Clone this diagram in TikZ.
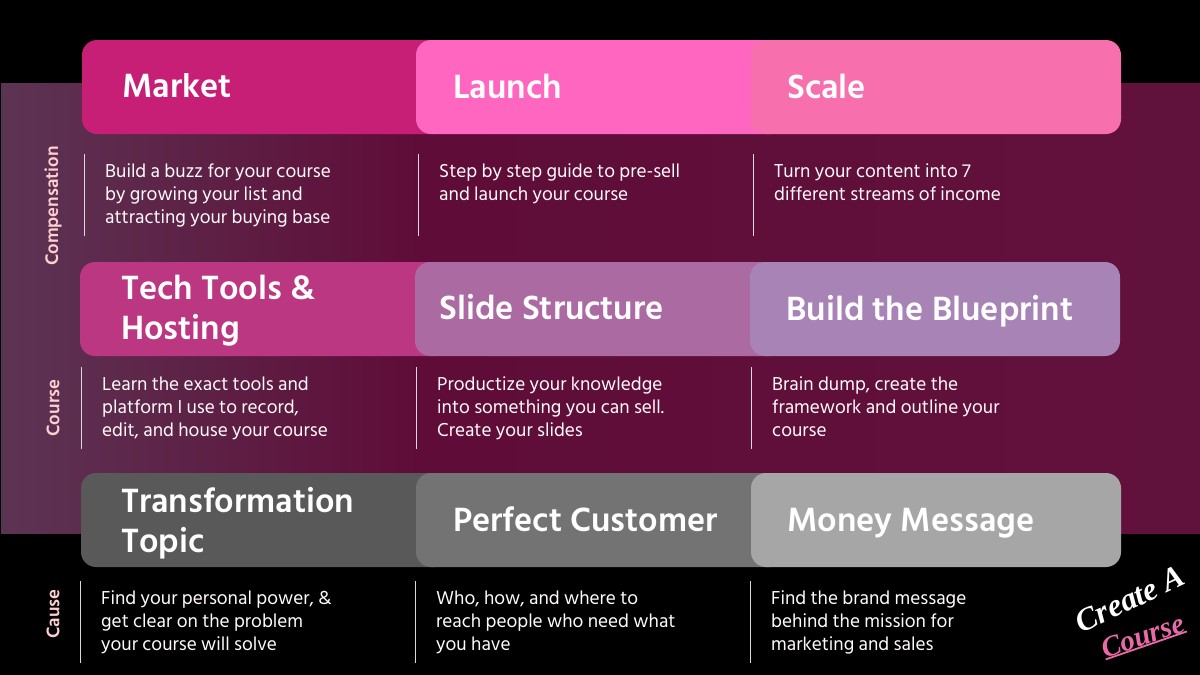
\documentclass[tikz,border=0pt]{standalone}
\usepackage{fontspec}
\setmainfont{Hind Siliguri}
\newfontfamily\logofont{Liberation Serif}
\usepackage{tikz}
\definecolor{bandleft}{HTML}{5C3453}
\definecolor{bandmid}{HTML}{5F0C38}
\definecolor{bandright}{HTML}{61123C}
\definecolor{marketfill}{HTML}{C71F76}
\definecolor{launchfill}{HTML}{FF66C0}
\definecolor{scalefill}{HTML}{F76FAC}
\definecolor{toolsfill}{HTML}{BC3782}
\definecolor{slidesfill}{HTML}{AC6AA3}
\definecolor{blueprintfill}{HTML}{A783B6}
\definecolor{topicfill}{HTML}{595959}
\definecolor{customerfill}{HTML}{737373}
\definecolor{moneyfill}{HTML}{A6A6A6}
\definecolor{logopink}{HTML}{E86AA8}
\tikzset{
  block/.style={fill=#1,rounded corners=15pt},
  title/.style={anchor=west,text=white,font=\fontsize{34.5}{40}\selectfont\bfseries,align=left,inner sep=0pt},
  body/.style={anchor=north west,text=white!92!pink,font=\fontsize{19.2}{23}\selectfont,align=left,inner sep=0pt},
  side/.style={rotate=90,text=pink!75!white,font=\fontsize{18.7}{20}\selectfont\bfseries,inner sep=0pt},
  rule/.style={draw=white!70!gray,line width=.8pt},
  logo/.style={font=\fontsize{#1}{#1}\selectfont\logofont\bfseries\itshape,inner sep=0pt}
}
\begin{document}
\begin{tikzpicture}[x=1pt,y=-1pt]
\useasboundingbox (0,0) rectangle (1200,675);
\fill[black] (0,0) rectangle (1200,675);

\fill[left color=bandleft,right color=bandmid] (1,83) rectangle (420,533);
\fill[left color=bandmid,right color=bandright] (420,83) rectangle (1200,533);

% top row
\path[block=marketfill] (82,40) rectangle (450,134);
\path[block=launchfill] (416,40) rectangle (785,134);
\path[block=scalefill] (751,40) rectangle (1121,134);
\node[title] (market) at (122,86) {Market};
\node[title] (launch) at (453,86) {Launch};
\node[title] (scale) at (787,86) {Scale};
\draw[rule] (84,154) -- (84,236);
\draw[rule] (418,154) -- (418,236);
\draw[rule] (753,154) -- (753,236);
\node[body] (marketbody) at (105,164) {Build a buzz for your course\\by growing your list and\\attracting your buying base};
\node[body] (launchbody) at (439,164) {Step by step guide to pre-sell\\and launch your course};
\node[body] (scalebody) at (774,164) {Turn your content into 7\\different streams of income};

% middle row
\path[block=toolsfill] (80,262) rectangle (449,356);
\path[block=slidesfill] (415,262) rectangle (784,356);
\path[block=blueprintfill] (750,262) rectangle (1120,356);
\node[title] (tools) at (121,311) {Tech Tools \&\\Hosting};
\node[title] (slides) at (439,307) {Slide Structure};
\node[title] (blueprint) at (786,311) {Build the Blueprint};
\draw[rule] (81,367) -- (81,449);
\draw[rule] (416,367) -- (416,449);
\draw[rule] (751,367) -- (751,449);
\node[body] (toolsbody) at (102,377) {Learn the exact tools and\\platform I use to record,\\edit, and house your course};
\node[body] (slidesbody) at (437,377) {Productize your knowledge\\into something you can sell.\\Create your slides};
\node[body] (blueprintbody) at (772,377) {Brain dump, create the\\framework and outline your\\course};

% bottom row
\path[block=topicfill] (81,473) rectangle (450,567);
\path[block=customerfill] (416,473) rectangle (785,567);
\path[block=moneyfill] (751,473) rectangle (1121,567);
\node[title] (topic) at (121,523) {Transformation\\Topic};
\node[title] (customer) at (453,519) {Perfect Customer};
\node[title] (money) at (787,523) {Money Message};
\draw[rule] (80,581) -- (80,663);
\draw[rule] (415,581) -- (415,663);
\draw[rule] (750,581) -- (750,663);
\node[body] (topicbody) at (101,591) {Find your personal power, \&\\get clear on the problem\\your course will solve};
\node[body] (customerbody) at (436,591) {Who, how, and where to\\reach people who need what\\you have};
\node[body] (moneybody) at (771,591) {Find the brand message\\behind the mission for\\marketing and sales};

\node[side] (compensation) at (53,206) {Compensation};
\node[side] (coursetag) at (53,408) {Course};
\node[side] (cause) at (53,614) {Cause};

% logo
\node[logo=32,rotate=25,text=white] (create) at (1130,599) {Create A};
\node[logo=29,rotate=19,text=logopink] (course) at (1143,636) {Course};
\draw[logopink,line width=1.8pt] (course.south west) -- (course.south east);
\end{tikzpicture}
\end{document}
